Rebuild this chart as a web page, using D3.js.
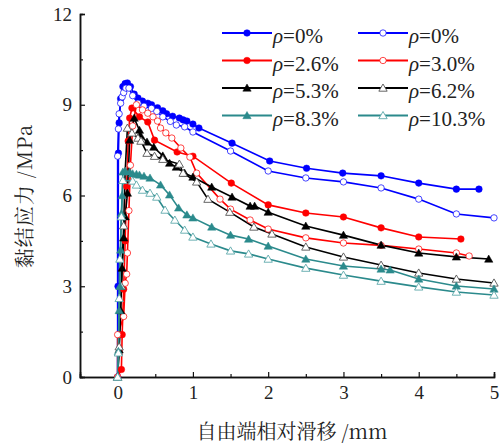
<!DOCTYPE html>
<html>
<head>
<meta charset="utf-8">
<script src="https://cdn.jsdelivr.net/npm/d3@7"></script>
<style>
  body { margin: 0; background: #fff; }
</style>
</head>
<body>
<script>
// 滑移 (mm) / 黏结应力 (MPa)
const slip0 = [0, 0.005, 0.01, 0.02, 0.04, 0.07, 0.1, 0.13, 0.17, 0.22, 0.27, 0.33, 0.4, 0.45, 0.53, 0.6, 0.65, 0.73, 0.82, 0.87, 0.92, 1.0, 1.08, 1.52, 2.02, 2.51, 2.99, 3.5, 4.0, 4.5, 4.8];
const stress0 = [0, 3.0, 7.4, 8.4, 9.2, 9.6, 9.7, 9.72, 9.6, 9.35, 9.22, 9.12, 9.05, 9.0, 8.9, 8.8, 8.7, 8.62, 8.56, 8.5, 8.46, 8.36, 8.23, 7.73, 7.14, 6.9, 6.74, 6.65, 6.41, 6.21, 6.21];

const slip1 = [0, 0.0, 0.01, 0.02, 0.04, 0.06, 0.08, 0.11, 0.15, 0.2, 0.27, 0.35, 0.45, 0.52, 0.6, 0.7, 0.78, 0.89, 1.0, 1.5, 2.0, 2.5, 3.0, 3.5, 4.0, 4.5, 5.0];
const stress1 = [0, 7.3, 8.2, 8.7, 9.05, 9.26, 9.4, 9.55, 9.55, 9.3, 9.05, 8.95, 8.88, 8.78, 8.6, 8.45, 8.33, 8.27, 8.1, 7.47, 6.81, 6.58, 6.45, 6.25, 5.88, 5.39, 5.26];

const slip2 = [0, 0.05, 0.06, 0.08, 0.1, 0.12, 0.14, 0.16, 0.19, 0.29, 0.4, 0.49, 0.79, 1.0, 1.51, 2.0, 2.5, 3.0, 3.5, 4.0, 4.56];
const stress2 = [0, 0.25, 1.4, 2.9, 4.5, 6.3, 7.8, 8.56, 8.89, 8.6, 8.43, 7.83, 7.44, 7.3, 6.41, 5.69, 5.42, 5.29, 4.93, 4.63, 4.56];

const slip3 = [0, 0.0, 0.08, 0.1, 0.12, 0.13, 0.15, 0.17, 0.2, 0.25, 0.33, 0.4, 0.47, 0.53, 0.57, 0.64, 0.72, 0.84, 0.96, 1.05, 1.36, 1.5, 1.76, 2.0, 2.5, 3.0, 3.5, 4.0, 4.5, 4.67];
const stress3 = [0, 1.4, 2.0, 3.1, 3.4, 4.1, 5.5, 7.0, 8.3, 9.0, 8.83, 8.72, 8.6, 8.46, 8.23, 8.07, 7.9, 7.57, 7.27, 6.74, 5.88, 5.55, 5.19, 4.89, 4.6, 4.43, 4.35, 4.23, 4.1, 4.0];

const slip4 = [0, 0.02, 0.04, 0.06, 0.08, 0.1, 0.13, 0.16, 0.22, 0.29, 0.3, 0.39, 0.48, 0.6, 0.69, 0.78, 0.89, 1.0, 1.25, 1.52, 1.76, 1.82, 2.0, 2.5, 3.0, 3.5, 4.0, 4.5, 4.93];
const stress4 = [0, 0.9, 2.2, 3.6, 4.6, 5.3, 6.08, 7.83, 8.56, 8.16, 8.0, 7.77, 7.6, 7.31, 7.07, 6.94, 6.74, 6.61, 6.28, 5.95, 5.65, 5.65, 5.45, 4.99, 4.69, 4.36, 4.1, 3.97, 3.9];

const slip5 = [0, 0.02, 0.05, 0.08, 0.1, 0.13, 0.19, 0.27, 0.31, 0.39, 0.49, 0.6, 0.82, 0.87, 1.05, 1.2, 1.49, 1.81, 2.05, 2.5, 3.0, 3.5, 4.0, 4.5, 5.0];
const stress5 = [0, 1.0, 3.0, 5.0, 6.8, 8.23, 8.07, 7.9, 7.8, 7.4, 7.3, 7.2, 7.04, 6.74, 6.45, 5.88, 5.45, 4.96, 4.73, 4.3, 3.97, 3.7, 3.44, 3.24, 3.11];

const slip6 = [0, 0.01, 0.02, 0.03, 0.04, 0.05, 0.06, 0.07, 0.1, 0.16, 0.2, 0.25, 0.29, 0.35, 0.43, 0.57, 0.69, 0.81, 0.92, 1.0, 1.25, 1.5, 1.74, 2.0, 2.5, 3.0, 3.5, 3.62, 4.0, 4.5, 5.0];
const stress6 = [0, 0.85, 2.2, 3.0, 4.2, 5.4, 6.0, 6.78, 6.8, 6.78, 6.72, 6.7, 6.68, 6.64, 6.58, 6.35, 6.02, 5.59, 5.36, 5.26, 4.96, 4.69, 4.56, 4.33, 3.9, 3.67, 3.57, 3.54, 3.24, 3.01, 2.91];

const slip7 = [0, 0.01, 0.02, 0.03, 0.05, 0.07, 0.2, 0.25, 0.33, 0.43, 0.52, 0.63, 0.76, 0.89, 1.0, 1.24, 1.5, 1.74, 2.0, 2.5, 3.0, 3.5, 4.0, 4.5, 5.0];
const stress7 = [0, 0.8, 2.6, 3.9, 5.3, 6.5, 6.48, 6.35, 6.18, 6.08, 5.95, 5.52, 5.19, 4.86, 4.63, 4.4, 4.17, 4.07, 3.9, 3.6, 3.37, 3.17, 2.98, 2.81, 2.71];

const labels = ['0%', '0%', '2.6%', '3.0%', '5.3%', '6.2%', '8.3%', '10.3%'];
const xTicks = [0, 1, 2, 3, 4, 5];
const yTicks = [0, 3, 6, 9, 12];

const series = [
    { x: slip0, y: stress0, color: '#0000ff', shape: 'circle', open: false },
    { x: slip1, y: stress1, color: '#0000ff', shape: 'circle', open: true },
    { x: slip2, y: stress2, color: '#ff0000', shape: 'circle', open: false },
    { x: slip3, y: stress3, color: '#ff0000', shape: 'circle', open: true },
    { x: slip4, y: stress4, color: '#000000', shape: 'triangle', open: false },
    { x: slip5, y: stress5, color: '#000000', shape: 'triangle', open: true },
    { x: slip6, y: stress6, color: '#2b8a8c', shape: 'triangle', open: false },
    { x: slip7, y: stress7, color: '#2b8a8c', shape: 'triangle', open: true }
];

const serif = '"Liberation Serif"';
const cjk = '"Noto Serif CJK SC"';

const width = 500, height = 446;
const svg = d3.select('body').append('svg')
    .attr('width', width)
    .attr('height', height);

const x = d3.scaleLinear().domain([-0.5, 5]).range([80, 494]);
const y = d3.scaleLinear().domain([0, 12]).range([377, 14]);

// 坐标轴
svg.append('g').attr('transform', `translate(0,${y(0)})`)
    .call(d3.axisBottom(x).tickValues(xTicks).tickSize(-5).tickPadding(9).tickFormat(d3.format('d')));
svg.append('g').attr('transform', `translate(0,${y(0)})`)
    .call(d3.axisBottom(x).tickValues([-0.5, 0.5, 1.5, 2.5, 3.5, 4.5]).tickSize(-3).tickFormat(''));
svg.append('g').attr('transform', `translate(${x(-0.5)},0)`)
    .call(d3.axisLeft(y).tickValues(yTicks).tickSize(-5).tickPadding(8).tickFormat(d3.format('d')));
svg.append('g').attr('transform', `translate(${x(-0.5)},0)`)
    .call(d3.axisLeft(y).tickValues([1.5, 4.5, 7.5, 10.5]).tickSize(-3).tickFormat(''));

svg.selectAll('.domain').attr('stroke', '#111').attr('stroke-width', 1.5);
svg.selectAll('.tick line').attr('stroke', '#111').attr('stroke-width', 1.2);
svg.selectAll('.tick text')
    .style('font-family', serif)
    .style('font-size', '19px')
    .attr('fill', '#222');

// 轴标题
svg.append('text')
    .attr('transform', `translate(32,196) rotate(-90)`)
    .attr('text-anchor', 'middle')
    .style('font-size', '20px')
    .style('font-family', cjk)
    .style('letter-spacing', '1px')
    .attr('fill', '#222')
    .text('黏结应力 /MPa');
svg.append('text')
    .attr('x', 292).attr('y', 439)
    .attr('text-anchor', 'middle')
    .style('font-size', '20px')
    .style('font-family', cjk)
    .attr('fill', '#222')
    .text('自由端相对滑移 /mm');

const line = d3.line().x(d => x(d[0])).y(d => y(d[1]));
const tri = d3.symbol().type(d3.symbolTriangle).size(30);

function drawMarker(g, s, px, py) {
    if (s.shape === 'circle') {
        g.append('circle')
            .attr('cx', px).attr('cy', py)
            .attr('r', s.open ? 3.2 : 3.3)
            .attr('fill', s.open ? '#fff' : s.color)
            .attr('stroke', s.color)
            .attr('stroke-width', s.open ? 0.9 : 0.5)
            .attr('stroke-opacity', s.open ? 0.8 : 1);
    } else {
        g.append('path')
            .attr('d', tri())
            .attr('transform', `translate(${px},${py + 0.8})`)
            .attr('fill', s.open ? '#fff' : s.color)
            .attr('stroke', s.open ? (s.color === '#000000' ? '#555' : '#5fa9ab') : s.color)
            .attr('stroke-width', s.open ? 0.9 : 0.5);
    }
}

const plot = svg.append('g');
series.forEach(s => {
    const pts = s.x.map((v, i) => [v, s.y[i]]);
    plot.append('path')
        .attr('d', line(pts))
        .attr('fill', 'none')
        .attr('stroke', s.color)
        .attr('stroke-width', 1.6);
});
series.forEach(s => {
    const g = plot.append('g');
    s.x.forEach((v, i) => drawMarker(g, s, x(v), y(s.y[i])));
});

// 图例
const legend = svg.append('g');
series.forEach((s, i) => {
    const col = i % 2, row = Math.floor(i / 2);
    const x0 = col === 0 ? 222 : 358;
    const ly = 33 + row * 27.5;
    legend.append('line')
        .attr('x1', x0).attr('x2', x0 + 50)
        .attr('y1', ly).attr('y2', ly)
        .attr('stroke', s.color).attr('stroke-width', 1.8);
    drawMarker(legend, s, x0 + 25, ly);
    const t = legend.append('text')
        .attr('x', x0 + 51).attr('y', ly + 10)
        .style('font-family', serif)
        .style('font-size', '21px')
        .attr('fill', '#222');
    t.append('tspan').style('font-style', 'italic').text('ρ');
    t.append('tspan').text('=' + labels[i]);
});
</script>
</body>
</html>
